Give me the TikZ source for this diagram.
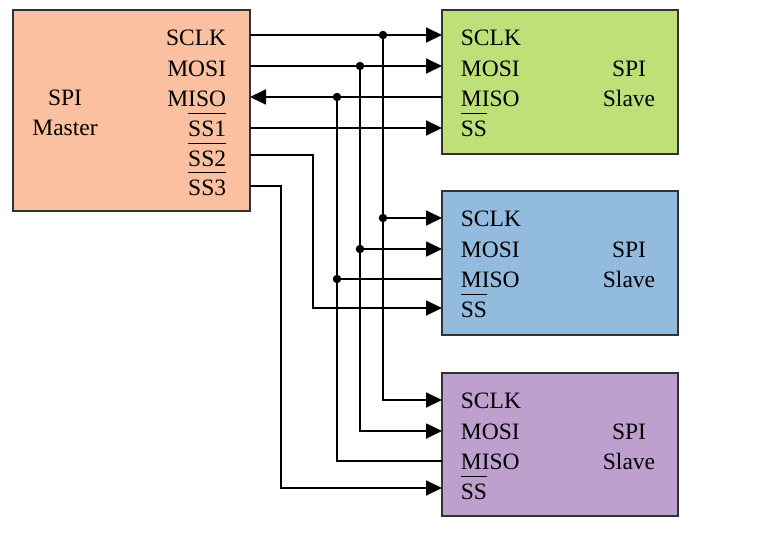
\documentclass[tikz,border=0pt]{standalone}
\usepackage{fontspec}
\setmainfont{Liberation Serif}
\usetikzlibrary{arrows.meta}
\definecolor{peach}{RGB}{251,192,160}
\definecolor{slgreen}{RGB}{189,224,121}
\definecolor{slblue}{RGB}{146,187,222}
\definecolor{slpurple}{RGB}{190,160,207}
\definecolor{edge}{RGB}{50,50,50}
\newlength\ovlw
\newcommand\ovl[1]{\settowidth\ovlw{#1}\makebox[0pt][l]{\rule[22pt]{\ovlw}{1.4pt}}#1}
\begin{document}
\begin{tikzpicture}[x=1pt,y=-1pt,line width=1.8pt,
  font=\fontsize{23.5}{27}\selectfont,
  box/.style={draw=edge,line width=1.4pt,anchor=north west,inner sep=0pt,outer sep=0pt},
  lw/.style={anchor=base west,inner sep=0pt},
  le/.style={anchor=base east,inner sep=0pt},
  lc/.style={anchor=base,inner sep=0pt},
  arr/.style={-{Triangle[length=16pt,width=15pt]}},
  dot/.style={circle,fill=black,draw=none,inner sep=0pt,minimum size=8.5pt}]
\useasboundingbox (0,0) rectangle (762,554);
% boxes
\node[box,fill=peach,minimum width=237pt,minimum height=201pt] (master) at (13,10) {};
\node[box,fill=slgreen,minimum width=236pt,minimum height=144pt] (s1) at (442,10) {};
\node[box,fill=slblue,minimum width=236pt,minimum height=144pt] (s2) at (442,191) {};
\node[box,fill=slpurple,minimum width=236pt,minimum height=143pt] (s3) at (442,373) {};
% master labels
\node[lc] (mt1) at (65,105) {SPI};
\node[lc] (mt2) at (65,135) {Master};
\node[le] (ml1) at (227,45) {SCLK};
\node[le] (ml2) at (227,76) {MOSI};
\node[le] (ml3) at (227,106) {MISO};
\node[le] (ml4) at (227,136) {\ovl{SS1}};
\node[le] (ml5) at (227,166) {\ovl{SS2}};
\node[le] (ml6) at (227,195) {\ovl{SS3}};
% slave labels
\foreach \n/\t in {1/10,2/191,3/373}{
  \node[lw] (s\n l1) at (460,\t+35) {SCLK};
  \node[lw] (s\n l2) at (460,\t+66) {MOSI};
  \node[lw] (s\n l3) at (460,\t+96) {MISO};
  \node[lw] (s\n l4) at (460,\t+126) {\ovl{SS}};
  \node[lc] (s\n t1) at (629,\t+66) {SPI};
  \node[lc] (s\n t2) at (629,\t+96) {Slave};
}
% ports
\coordinate (mA) at (250,35);
\coordinate (mB) at (250,66);
\coordinate (mC) at (250,97);
\coordinate (mD) at (250,128);
\coordinate (mE) at (250,155);
\coordinate (mF) at (250,186);
\coordinate (s1a) at (442,35);  \coordinate (s1b) at (442,66);
\coordinate (s1c) at (442,97);  \coordinate (s1d) at (442,128);
\coordinate (s2a) at (442,218); \coordinate (s2b) at (442,249);
\coordinate (s2c) at (442,279); \coordinate (s2d) at (442,308);
\coordinate (s3a) at (442,400); \coordinate (s3b) at (442,431);
\coordinate (s3c) at (442,461); \coordinate (s3d) at (442,488);
\coordinate (jA) at (383,35);  \coordinate (jA2) at (383,218);
\coordinate (jB) at (360,66);  \coordinate (jB2) at (360,249);
\coordinate (jC) at (337,97);  \coordinate (jC2) at (337,279);
\coordinate (k2) at (313,308);
\coordinate (k3) at (281,488);
% SCLK
\draw[arr] (mA) -- (s1a);
\draw[arr] (jA) |- (s3a);
\draw[arr] (jA2) -- (s2a);
% MOSI
\draw[arr] (mB) -- (s1b);
\draw[arr] (jB) |- (s3b);
\draw[arr] (jB2) -- (s2b);
% MISO
\draw[arr] (s1c) -- (mC);
\draw (jC) |- (s3c);
\draw (jC2) -- (s2c);
% SS
\draw[arr] (mD) -- (s1d);
\draw[arr] (mE) -| (k2) -- (s2d);
\draw[arr] (mF) -| (k3) -- (s3d);
% junction dots
\foreach \j in {jA,jA2,jB,jB2,jC,jC2} \node[dot] (d\j) at (\j) {};
\end{tikzpicture}
\end{document}
